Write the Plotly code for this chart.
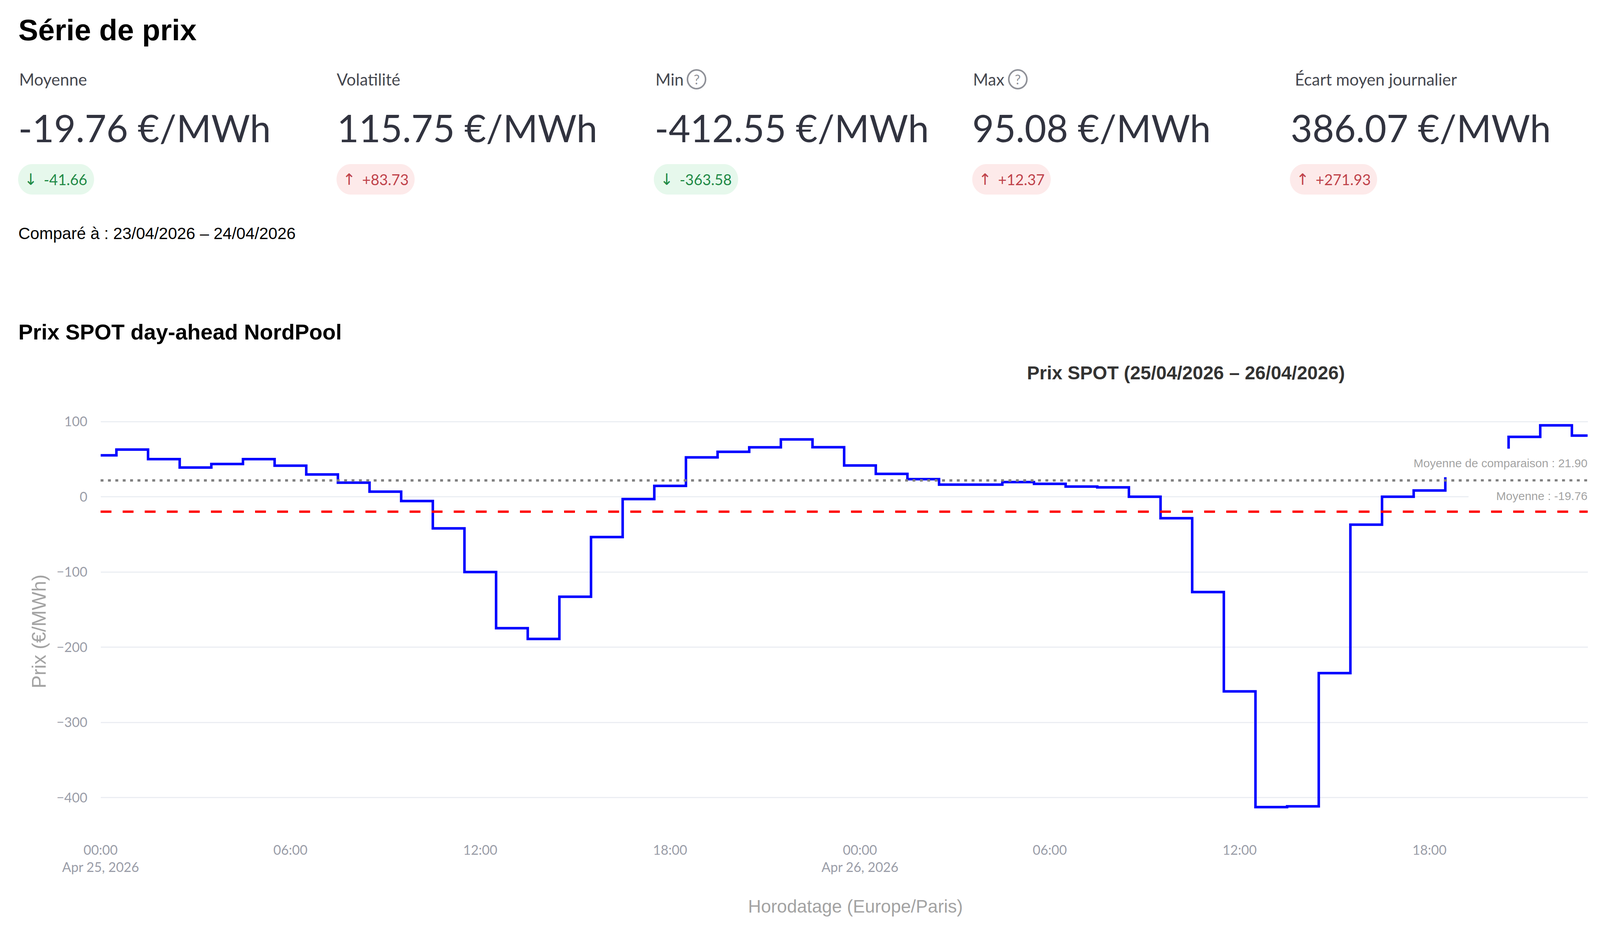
import pandas as pd
import plotly.graph_objects as go

# The browser window is limited to 4096 px wide, so the 4422-px design is fitted into it:
# positions below are given in reference pixels and converted to fractions of the paper.
REF_W, H = 4422, 2378
W = 4096
XS = W / REF_W

# ---------- data ----------
prices = [55.2, 62.9, 50.1, 39.0, 43.7, 50.1, 41.4, 29.7, 18.9, 6.9, -5.5, -41.9,
          -99.9, -174.6, -188.9, -132.8, -53.5, -2.9, 14.6, 52.5, 59.9, 65.8, 76.4, 66.0,
          41.7, 30.5, 23.5, 16.3, 16.3, 19.6, 17.3, 13.7, 12.6, 0.2, -28.4, -126.6,
          -258.6, -412.55, -411.5, -234.3, -37.0, 0.2, 8.5, 30.0, 41.0, 79.8, 95.08, 81.5]
timestamps = pd.date_range("2026-04-25 00:00", periods=len(prices), freq="h")
mean_value = -19.76
compare_value = 21.90

kpi_labels = ["Moyenne", "Volatilité", "Min", "Max", "Écart moyen journalier"]
kpi_values = ["-19.76 €/MWh", "115.75 €/MWh", "-412.55 €/MWh", "95.08 €/MWh", "386.07 €/MWh"]
kpi_deltas = ["-41.66", "+83.73", "-363.58", "+12.37", "+271.93"]
kpi_label_x = [52, 930, 1810, 2688, 3578]
kpi_value_x = [50, 931, 1808, 2686, 3566]
kpi_help = [False, False, True, True, False]
pill_x = [(50, 260), (930, 1146), (1807, 2040), (2687, 2904), (3565, 3806)]

SANS = "Liberation Sans, Arial, sans-serif"
UI = "Lato, Noto Sans, sans-serif"
INK = "#31333f"
GREEN, GREEN_BG = "#1f8a46", "#e6f8ec"
RED, RED_BG = "#c0424a", "#fdeaea"
GRID = "#ebeef3"
TICK = "#9a9da8"
TITLE_GREY = "#a3a3a3"

# ---------- helpers (reference pixels -> paper fractions) ----------
def fx(x):
    return x / REF_W

def fy(y):
    return 1 - y / H

annotations = []

def text(x, y, s, size, color, family=SANS, bold=False, xanchor="left", angle=0):
    annotations.append(dict(
        xref="paper", yref="paper", x=fx(x), y=fy(y), text=f"<b>{s}</b>" if bold else s,
        showarrow=False, xanchor=xanchor, yanchor="middle", textangle=angle,
        font=dict(family=family, size=size, color=color), borderpad=0))

def pill_path(x0, x1, y0, y1):
    r = (y1 - y0) / 2
    k = r * 0.45
    pts = [
        f"M {fx(x0 + r)} {fy(y0)}", f"L {fx(x1 - r)} {fy(y0)}",
        f"C {fx(x1 - k)} {fy(y0)} {fx(x1)} {fy(y0 + k)} {fx(x1)} {fy(y0 + r)}",
        f"C {fx(x1)} {fy(y1 - k)} {fx(x1 - k)} {fy(y1)} {fx(x1 - r)} {fy(y1)}",
        f"L {fx(x0 + r)} {fy(y1)}",
        f"C {fx(x0 + k)} {fy(y1)} {fx(x0)} {fy(y1 - k)} {fx(x0)} {fy(y0 + r)}",
        f"C {fx(x0)} {fy(y0 + k)} {fx(x0 + k)} {fy(y0)} {fx(x0 + r)} {fy(y0)}", "Z"]
    return " ".join(pts)

shapes = []

# ---------- header ----------
text(50, 76, "Série de prix", 76, "#000000", bold=True)
for lab, val, delta, lx, vx, help_, (p0, p1) in zip(
        kpi_labels, kpi_values, kpi_deltas, kpi_label_x, kpi_value_x, kpi_help, pill_x):
    text(lx, 203, lab, 42, "#45474f", UI)
    text(vx, 326, val, 96, INK, UI)
    down = delta.startswith("-")
    col, bg = (GREEN, GREEN_BG) if down else (RED, RED_BG)
    shapes.append(dict(type="path", xref="paper", yref="paper", layer="below",
                       path=pill_path(p0, p1, 420, 498), fillcolor=bg, line_width=0))
    text(p0 + 16, 459, "↓" if down else "↑", 40, col, "DejaVu Sans")
    text(p0 + 70, 459, delta, 38, col, UI)
    if help_:
        cx = lx + (115 if lab == "Min" else 125)
        shapes.append(dict(type="circle", xref="paper", yref="paper",
                           x0=fx(cx - 25), x1=fx(cx + 25), y0=fy(203 + 24), y1=fy(203 - 24),
                           line=dict(color="#8f9198", width=4), fillcolor="white"))
        text(cx, 203, "?", 34, "#8f9198", UI, xanchor="center")

text(50, 598, "Comparé à : 23/04/2026 – 24/04/2026", 42, "#000000")
text(50, 850, "Prix SPOT day-ahead NordPool", 55.6, "#000000", bold=True)
text(2837, 955, "Prix SPOT (25/04/2026 – 26/04/2026)", 48, "#333333", bold=True)
text(108, 1616, "Prix (€/MWh)", 50, TITLE_GREY, xanchor="center", angle=-90)
text(2364, 2320, "Horodatage (Europe/Paris)", 46, TITLE_GREY, xanchor="center")

# ---------- reference-line labels (white boxes hide what lies behind them) ----------
for value, label, box_w, shift in [
        (compare_value, f"Moyenne de comparaison : {compare_value:.2f}", 556, 8),
        (mean_value, f"Moyenne : {mean_value:.2f}", 328, 4)]:
    annotations.append(dict(
        xref="paper", yref="y", x=fx(4388), y=value, yshift=shift, text=label,
        showarrow=False, xanchor="right", yanchor="bottom", align="right",
        width=box_w * XS, height=72, bgcolor="white", borderpad=0,
        font=dict(family=SANS, size=30, color=TITLE_GREY)))

# ---------- figure ----------
fig = go.Figure()
fig.add_trace(go.Scatter(x=timestamps, y=prices, mode="lines",
                         line=dict(shape="hvh", color="#0000ff", width=6.5),
                         name="Prix SPOT", showlegend=False))

shapes.append(dict(type="line", xref="paper", yref="y", x0=fx(278), x1=fx(4388),
                   y0=compare_value, y1=compare_value, layer="above",
                   line=dict(color="#808080", width=6, dash=f"{8 * XS}px,{12.4 * XS}px")))
shapes.append(dict(type="line", xref="paper", yref="y", x0=fx(278), x1=fx(4388),
                   y0=mean_value, y1=mean_value, layer="above",
                   line=dict(color="#ff0000", width=6, dash=f"{30 * XS}px,{31 * XS}px")))

fig.update_layout(
    width=W, height=H, autosize=False,
    margin=dict(l=0, r=0, t=0, b=0, pad=0, autoexpand=False),
    paper_bgcolor="white", plot_bgcolor="white", showlegend=False,
    shapes=shapes, annotations=annotations,
    xaxis=dict(domain=[fx(278), fx(4388)], type="date", automargin=False,
               range=["2026-04-25 00:00", "2026-04-26 23:00"],
               dtick=6 * 3600 * 1000, tick0="2026-04-25 00:00",
               showgrid=False, zeroline=False, showline=False,
               ticks="outside", ticklen=8, tickcolor="rgba(0,0,0,0)",
               tickfont=dict(family=UI, size=34, color=TICK)),
    yaxis=dict(domain=[1 - 2138 / H, 1 - 1050 / H], range=[-449.9, 115.2], automargin=False,
               tickvals=[-400, -300, -200, -100, 0, 100],
               showgrid=True, gridcolor=GRID, gridwidth=3,
               zeroline=True, zerolinecolor=GRID, zerolinewidth=3, showline=False,
               ticks="outside", ticklen=26, tickcolor="rgba(0,0,0,0)",
               tickfont=dict(family=UI, size=34, color=TICK)),
)

fig.write_html("out.html", config={"displayModeBar": False},
               post_script="document.body.style.margin='0';")
